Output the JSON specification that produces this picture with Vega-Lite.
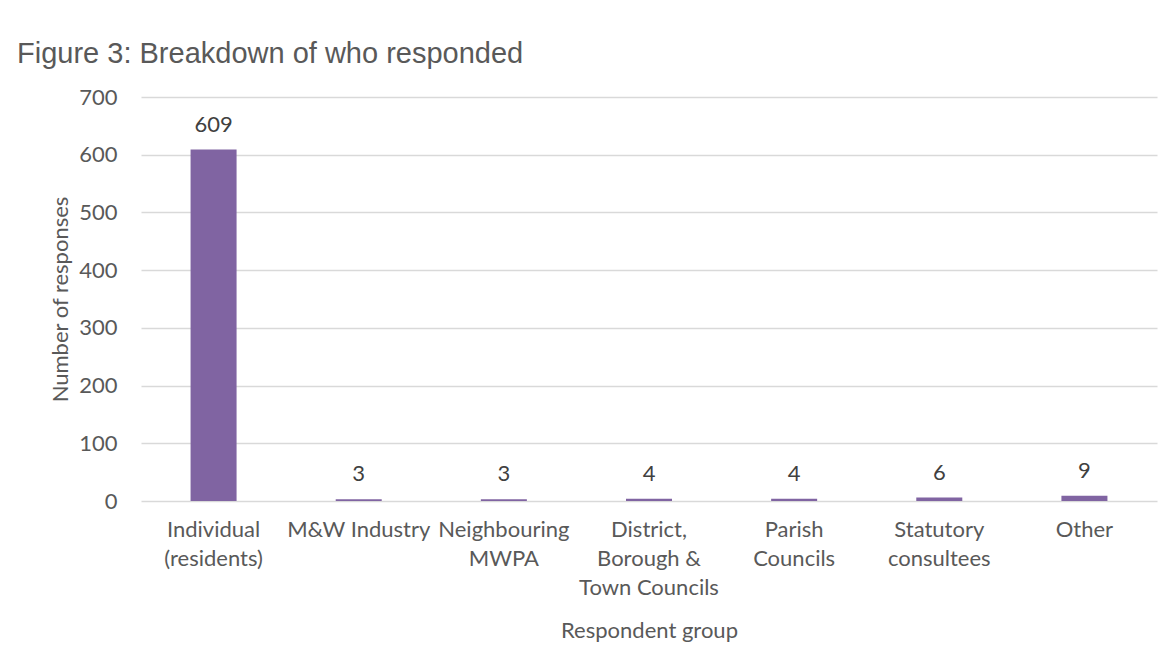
{
  "$schema": "https://vega.github.io/schema/vega-lite/v6.json",
  "autosize": {"type": "none"},
  "width": 1016,
  "height": 404,
  "padding": {"left": 141, "top": 97, "right": 15, "bottom": 169},
  "background": "white",
  "title": {
    "text": "Figure 3: Breakdown of who responded",
    "anchor": "start",
    "frame": "group",
    "font": "Liberation Sans",
    "fontSize": 29,
    "fontWeight": "normal",
    "color": "#595959",
    "baseline": "alphabetic",
    "offset": 25,
    "dx": -124,
    "dy": 31
  },
  "data": {
    "values": [
      {"group": "Individual|(residents)", "responses": 609},
      {"group": "M&W Industry", "responses": 3},
      {"group": "Neighbouring|MWPA", "responses": 3},
      {"group": "District,|Borough &|Town Councils", "responses": 4},
      {"group": "Parish|Councils", "responses": 4},
      {"group": "Statutory|consultees", "responses": 6},
      {"group": "Other", "responses": 9}
    ]
  },
  "encoding": {
    "x": {
      "field": "group",
      "type": "nominal",
      "sort": null,
      "scale": {"paddingInner": 0.683, "paddingOuter": 0.3415},
      "axis": {
        "title": "Respondent group",
        "titleFont": "Lato",
        "titleFontSize": 22,
        "titleFontWeight": "normal",
        "titleColor": "#595959",
        "titlePadding": 22,
        "labelExpr": "split(datum.value, '|')",
        "labelAngle": 0,
        "labelFont": "Lato",
        "labelFontSize": 22,
        "labelColor": "#595959",
        "labelLineHeight": 29,
        "labelBaseline": "top",
        "labelPadding": 18,
        "labelLimit": 300,
        "ticks": false,
        "domain": false
      }
    },
    "y": {
      "field": "responses",
      "type": "quantitative",
      "scale": {"domain": [0, 700]},
      "axis": {
        "title": "Number of responses",
        "titleFont": "Lato",
        "titleFontSize": 22,
        "titleFontWeight": "normal",
        "titleColor": "#595959",
        "titlePadding": 6,
        "values": [0, 100, 200, 300, 400, 500, 600, 700],
        "labelFont": "Lato",
        "labelFontSize": 22,
        "labelColor": "#595959",
        "labelPadding": 24,
        "ticks": false,
        "domain": false,
        "grid": true,
        "gridColor": "#D9D9D9",
        "gridWidth": 1.5
      }
    }
  },
  "layer": [
    {"mark": {"type": "bar", "color": "#8064A2"}},
    {
      "mark": {
        "type": "text",
        "font": "Lato",
        "fontSize": 22,
        "color": "#404040",
        "baseline": "alphabetic",
        "dy": -18
      },
      "encoding": {"text": {"field": "responses", "type": "quantitative"}}
    }
  ],
  "config": {
    "view": {"stroke": null}
  }
}
